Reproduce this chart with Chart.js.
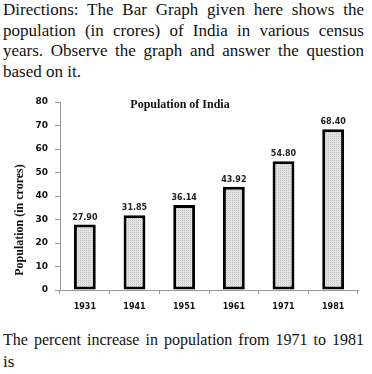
<!DOCTYPE html>
<html>
<head>
<meta charset="utf-8">
<script src="https://cdn.jsdelivr.net/npm/chart.js@4.4.1/dist/chart.umd.min.js"></script>
<style>
  body { margin: 0; background: #fff; width: 372px; height: 374px; overflow: hidden; position: relative; }
  .txt { position: absolute; left: 3px; width: 361px; font-family: "Liberation Serif", serif; font-size: 17px; color: #111; }
  .txt div { height: 20.7px; line-height: 20.7px; white-space: nowrap; }
  .j { text-align: justify; text-align-last: justify; white-space: normal !important; }
  .small { font-size: 16px; word-spacing: -1px; }
  #top { top: 0px; }
  #bottom { top: 329px; }
  #bottom div { height: 22px; line-height: 22px; }
  #myChart { position: absolute; left: 0; top: 88px; }
</style>
</head>
<body>
<div class="txt" id="top">
  <div class="j">Directions: The Bar Graph given here shows the</div>
  <div class="j">population (in crores) of India in various census</div>
  <div class="j">years. Observe the graph and answer the question</div>
  <div>based on it.</div>
</div>
<canvas id="myChart" width="372" height="236"></canvas>
<div class="txt" id="bottom">
  <div class="j small">The percent increase in population from 1971 to 1981</div>
  <div>is</div>
</div>
<script>
// ====== Population of India =========

const years = ["1931", "1941", "1951", "1961", "1971", "1981"];
const population = [27.9, 31.85, 36.14, 43.92, 54.8, 68.4];
const yTicks = [0, 10, 20, 30, 40, 50, 60, 70, 80];
const chartTitle = "Population of India";
const yTitle = "Population (in crores)";

// dotted grey fill like the picture
function greyPattern() {
  const c = document.createElement("canvas");
  c.width = 2;
  c.height = 2;
  const g = c.getContext("2d");
  g.fillStyle = "#e2e2e2";
  g.fillRect(0, 0, 2, 2);
  g.fillStyle = "#c4c4c4";
  g.fillRect(0, 0, 1, 1);
  return g.createPattern(c, "repeat");
}

const labelsPlugin = {
  id: "labelsPlugin",
  afterDatasetsDraw(chart) {
    const ctx = chart.ctx;
    ctx.save();
    // values over bars
    ctx.font = "bold 8px 'DejaVu Sans'";
    ctx.fillStyle = "#222";
    ctx.textAlign = "center";
    ctx.textBaseline = "middle";
    chart.getDatasetMeta(0).data.forEach((bar, i) => {
      ctx.fillText(population[i].toFixed(2), bar.x, bar.y - 7);
    });
    // title inside plot
    ctx.font = "bold 12px 'Liberation Serif'";
    ctx.fillStyle = "#111";
    ctx.fillText(chartTitle, 180, 17);
    // y axis title
    ctx.translate(20, 132);
    ctx.rotate(-Math.PI / 2);
    ctx.fillText(yTitle, 0, 0);
    ctx.restore();
  },
};

let ctx = document.getElementById("myChart").getContext("2d");

var graphie = new Chart(ctx, {
  type: "bar",
  data: {
    labels: years,
    datasets: [
      {
        label: "Population",
        data: population,
        backgroundColor: greyPattern(),
        borderColor: "#000",
        borderWidth: 3,
        borderSkipped: false,
        categoryPercentage: 1,
        barPercentage: 0.44,
      },
    ],
  },
  options: {
    responsive: false,
    animation: false,
    devicePixelRatio: 1,
    layout: { padding: { left: 0, right: 14, top: 14, bottom: 0 } },
    plugins: {
      legend: { display: false },
      tooltip: { enabled: false },
    },
    scales: {
      x: {
        offset: true,
        grid: { offset: true, drawOnChartArea: false, tickLength: 4, color: "#999" },
        border: { color: "#999", width: 1 },
        ticks: { color: "#111", font: { family: "DejaVu Sans", size: 8, weight: "bold" }, padding: 8 },
        afterFit(scale) {
          scale.height = 34;
        },
      },
      y: {
        min: 0,
        max: 80,
        afterBuildTicks(scale) {
          scale.ticks = yTicks.map((v) => ({ value: v }));
        },
        grid: { drawOnChartArea: false, tickLength: 5, color: "#999" },
        border: { color: "#999", width: 1 },
        ticks: { color: "#111", font: { family: "DejaVu Sans", size: 9, weight: "bold" }, padding: 7 },
        afterFit(scale) {
          scale.width = 60;
        },
      },
    },
  },
  plugins: [labelsPlugin],
});
</script>
</body>
</html>
